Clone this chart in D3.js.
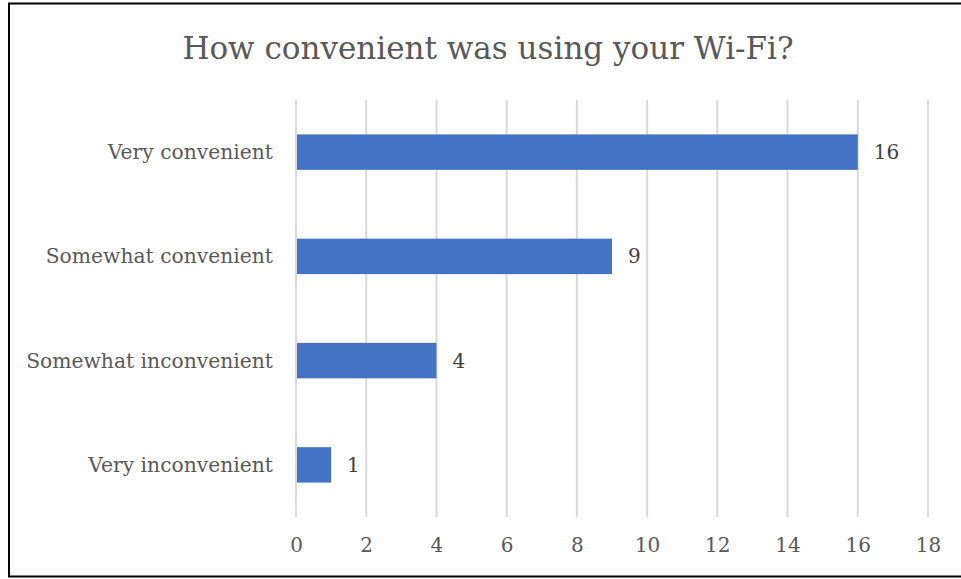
<!DOCTYPE html>
<html>
<head>
<meta charset="utf-8">
<script src="https://cdn.jsdelivr.net/npm/d3@7"></script>
<style>
  html, body { margin: 0; padding: 0; background: #fff; }
  svg { display: block; }
</style>
</head>
<body>
<svg id="chart" width="961" height="579"></svg>
<script>
// Survey responses: convenience of Wi-Fi use
const categories = ["Very convenient", "Somewhat convenient", "Somewhat inconvenient", "Very inconvenient"];
const counts = [16, 9, 4, 1];
const xTicks = [0, 2, 4, 6, 8, 10, 12, 14, 16, 18];
const title = "How convenient was using your Wi-Fi?";

const svg = d3.select("#chart");
const font = "'DejaVu Serif', 'Liberation Serif', serif";

// Chart frame (runs past the right edge)
svg.append("rect")
  .attr("x", 9).attr("y", 3.5)
  .attr("width", 970).attr("height", 573)
  .attr("fill", "#fff")
  .attr("stroke", "#000")
  .attr("stroke-width", 2);

const x = d3.scaleLinear().domain([0, 18]).range([296, 928]);
const y = d3.scaleBand().domain(categories).range([100, 517]).paddingInner(0.66).paddingOuter(0.33);

// Vertical gridlines
svg.append("g")
  .selectAll("line")
  .data(xTicks)
  .join("line")
  .attr("x1", d => x(d)).attr("x2", d => x(d))
  .attr("y1", 100).attr("y2", 517)
  .attr("stroke", "#d9d9d9")
  .attr("stroke-width", 2);

// Bars
svg.append("g")
  .selectAll("rect")
  .data(categories)
  .join("rect")
  .attr("x", x(0) + 1)
  .attr("y", d => y(d))
  .attr("width", (d, i) => x(counts[i]) - x(0) - 1)
  .attr("height", y.bandwidth())
  .attr("fill", "#4472c4");

// Value labels
svg.append("g")
  .selectAll("text")
  .data(categories)
  .join("text")
  .attr("x", (d, i) => x(counts[i]) + 16)
  .attr("y", d => y(d) + y.bandwidth() / 2)
  .attr("dy", "0.35em")
  .attr("font-family", font)
  .attr("font-size", 20)
  .attr("fill", "#404040")
  .text((d, i) => counts[i]);

// Category labels
svg.append("g")
  .selectAll("text")
  .data(categories)
  .join("text")
  .attr("x", 273)
  .attr("y", d => y(d) + y.bandwidth() / 2)
  .attr("dy", "0.35em")
  .attr("text-anchor", "end")
  .attr("font-family", font)
  .attr("font-size", 20.3)
  .attr("fill", "#595959")
  .text(d => d);

// X axis tick labels
const xAxis = d3.axisBottom(x).tickValues(xTicks).tickSize(0).tickPadding(0);
const gx = svg.append("g").attr("transform", "translate(0,538)").call(xAxis);
gx.select(".domain").remove();
gx.selectAll("text")
  .attr("font-family", font)
  .attr("font-size", 20)
  .attr("fill", "#595959");

// Title
svg.append("text")
  .attr("x", (180 + 796) / 2)
  .attr("y", 48)
  .attr("dy", "0.35em")
  .attr("text-anchor", "middle")
  .attr("font-family", font)
  .attr("font-size", 31)
  .attr("fill", "#595959")
  .text(title);
</script>
</body>
</html>
